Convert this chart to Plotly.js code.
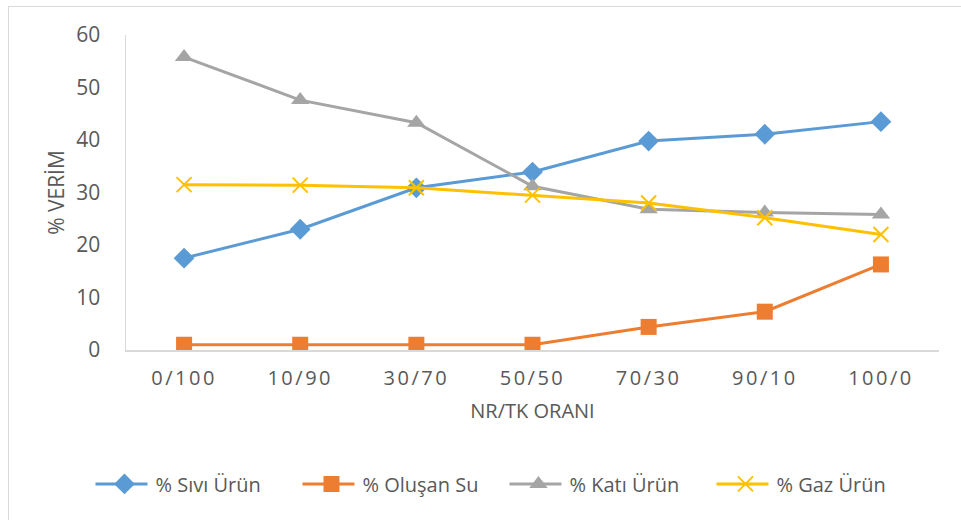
<!DOCTYPE html>
<html>
<head>
<meta charset="utf-8">
<script src="https://cdn.plot.ly/plotly-3.0.1.min.js"></script>
<style>
html,body{margin:0;padding:0;background:#fff;overflow:hidden;}
#chart{position:absolute;left:0;top:0;width:961px;height:520px;}
#frame{position:absolute;left:8px;top:6px;width:980px;height:540px;border:1px solid #d9d9d9;pointer-events:none;}
.xtick text{letter-spacing:2.5px;}
</style>
</head>
<body>
<div id="chart"></div>
<div id="frame"></div>
<script>
const categories = ["0/100","10/90","30/70","50/50","70/30","90/10","100/0"];
const sivi  = [17.5, 23.0, 30.9, 33.9, 39.8, 41.1, 43.5];
const su    = [1.0, 1.0, 1.0, 1.0, 4.4, 7.3, 16.3];
const kati  = [55.8, 47.6, 43.3, 31.2, 26.8, 26.2, 25.8];
const gaz   = [31.5, 31.4, 30.9, 29.5, 28.0, 25.2, 22.0];
const names = ["% Sıvı Ürün","% Oluşan Su","% Katı Ürün","% Gaz Ürün"];
const yTicks = [0,10,20,30,40,50,60];

const fontFam = "Open Sans, Lato, sans-serif";
const txt = "#595959";

const traces = [
  {x: categories, y: sivi, name: names[0], mode: "lines+markers",
   line: {color: "#5B9BD5", width: 3},
   marker: {symbol: "diamond", size: 16, color: "#5B9BD5"}},
  {x: categories, y: su, name: names[1], mode: "lines+markers",
   line: {color: "#ED7D31", width: 3},
   marker: {symbol: "square", size: 16, color: "#ED7D31"}},
  {x: categories, y: kati, name: names[2], mode: "lines+markers",
   line: {color: "#A5A5A5", width: 3},
   marker: {symbol: "triangle-up", size: 16, color: "#A5A5A5"}},
  {x: categories, y: gaz, name: names[3], mode: "lines+markers",
   line: {color: "#FFC000", width: 3},
   marker: {symbol: "x-thin-open", size: 15, color: "#FFC000", line: {color: "#FFC000", width: 2}}}
];

const layout = {
  width: 961, height: 520,
  margin: {l: 126, r: 22, t: 35, b: 170, autoexpand: false},
  paper_bgcolor: "rgba(0,0,0,0)", plot_bgcolor: "rgba(0,0,0,0)",
  font: {family: fontFam, color: txt, size: 20},
  showlegend: true,
  legend: {orientation: "h", x: -0.04, xanchor: "left", y: -0.425, yanchor: "middle",
           font: {size: 20, color: txt}, itemwidth: 52, entrywidth: 140, entrywidthmode: "pixels",
           traceorder: "normal"},
  xaxis: {type: "category", categoryorder: "array", categoryarray: categories,
          range: [-0.5, 6.5], showgrid: false, zeroline: false,
          showline: true, linecolor: "#d9d9d9", linewidth: 1.5,
          ticks: "", tickfont: {size: 20, color: txt}, ticklabelstandoff: 9,
          title: {text: "NR/TK ORANI", font: {size: 20, color: txt}, standoff: 14}},
  yaxis: {range: [0, 60], tickvals: yTicks, showgrid: false, zeroline: false,
          showline: true, linecolor: "#d9d9d9", linewidth: 1.5,
          ticks: "", tickfont: {size: 21, color: txt}, ticklabelstandoff: 20,
          title: {text: "% VERİM", font: {size: 21, color: txt}, standoff: 6}}
};

Plotly.newPlot("chart", traces, layout, {displayModeBar: false, staticPlot: true}).then(function(gd){
  // lengthen legend line samples to Excel-like length and centre the marker on them
  gd.querySelectorAll('.legend .legendlines path').forEach(function(p){ p.setAttribute('d', 'M2,0h52'); });
  gd.querySelectorAll('.legend .legendpoints path').forEach(function(p){
    var t = p.getAttribute('transform') || '';
    p.setAttribute('transform', t.replace(/translate\(\s*20/, 'translate(28'));
  });
});
</script>
</body>
</html>
